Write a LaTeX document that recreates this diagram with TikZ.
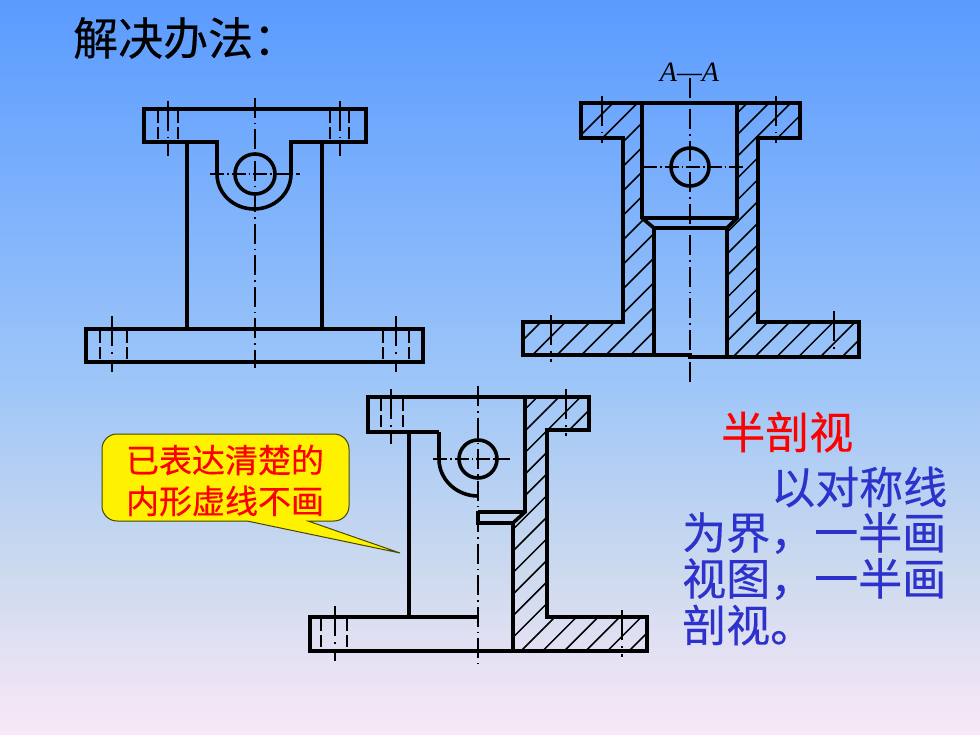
\documentclass[tikz,border=0pt]{standalone}
\usepackage{fontspec}
\newfontfamily\cjk[FakeBold=0.4]{Noto Sans CJK SC}
\newfontfamily\latinit{Liberation Serif}
\definecolor{bgA}{RGB}{90,155,255}
\definecolor{bgB}{RGB}{158,198,248}
\definecolor{bgC}{RGB}{205,218,238}
\definecolor{bgD}{RGB}{250,232,248}
\definecolor{bluetext}{RGB}{45,50,205}
\pgfdeclareverticalshading{slidebg}{100bp}{color(0bp)=(bgD); color(25bp)=(bgD); color(36bp)=(bgC); color(49bp)=(bgB); color(75bp)=(bgA); color(100bp)=(bgA)}
\tikzset{
  outline/.style={line width=3.6pt,line join=miter,line cap=butt},
  centreline/.style={line width=1.7pt,dash pattern=on 20pt off 5pt on 1.5pt off 5pt},
  hcentre/.style={line width=1.1pt,dash pattern=on 14pt off 3pt on 1.5pt off 3pt},
  boltaxis/.style={line width=1.7pt,dash pattern=on 30pt off 6pt on 1.5pt off 6pt},
  hidden/.style={line width=1.7pt,dash pattern=on 12pt off 4pt},
  hatchline/.style={line width=1.5pt},
  title/.style={font=\cjk\fontsize{45}{45}\selectfont,text=black,inner sep=0pt,anchor=west},
  bodyred/.style={font=\cjk\fontsize{44}{44}\selectfont,text=red,inner sep=0pt,anchor=west},
  bodyblue/.style={font=\cjk\fontsize{44}{44}\selectfont,text=bluetext,inner sep=0pt,anchor=west},
  calltext/.style={font=\cjk\fontsize{33}{33}\selectfont,text=red,inner sep=0pt,anchor=center},
}
\begin{document}
\begin{tikzpicture}[x=1pt,y=-1pt]
\useasboundingbox (0,0) rectangle (980,735);
\shade[shading=slidebg] (0,0) rectangle (980,735);

% Title
\node[title] (ttl) at (73,38) {解决办法：};

% ---------- View 1 ----------
\draw[centreline] (255,98) -- (255,368);
\draw[hcentre] (210,174) -- (300,174);
\foreach \x in {168,340} \draw[boltaxis] (\x,101) -- (\x,156);
\foreach \x in {158,178,330,349} \draw[hidden] (\x,111) -- (\x,141);
\foreach \x in {112,396} \draw[boltaxis] (\x,316) -- (\x,372);
\foreach \x in {100,127,383,409} \draw[hidden] (\x,331) -- (\x,361);
\draw[outline] (217,142) -- (144,142) -- (144,109) -- (366,109) -- (366,142) -- (291,142) -- (291,174)
  arc[start angle=0,end angle=180,x radius=37,y radius=35] -- cycle;
\draw[outline] (187,142) -- (187,329);
\draw[outline] (322,142) -- (322,329);
\draw[outline] (86,329) rectangle (423,362);
\draw[outline] (255,174) circle[radius=20];

% ---------- View 2 ----------
\begin{scope}
\clip (581,103) -- (642,103) -- (642,218) -- (654,228) -- (654,356) -- (523,356) -- (523,322) -- (623,322) -- (623,138) -- (581,138) -- cycle;
\foreach \k in {0,...,14} \draw[hatchline] ({716+24.5*\k-80},80) -- ({716+24.5*\k-380},380);
\end{scope}
\begin{scope}
\clip (737,103) -- (800,103) -- (800,138) -- (758,138) -- (758,322) -- (859,322) -- (859,357) -- (727,357) -- (727,228) -- (737,218) -- cycle;
\foreach \k in {-11,...,5} \draw[hatchline] ({1090+21.8*\k-80},80) -- ({1090+21.8*\k-380},380);
\end{scope}
\draw[centreline] (690,78) -- (690,382);
\draw[hcentre,line width=1.2pt] (643,167) -- (743,167);
\foreach \x in {602,776} \draw[boltaxis] (\x,96) -- (\x,143);
\draw[boltaxis] (551,315) -- (551,362);
\draw[boltaxis] (834,311) -- (834,358);
\draw[outline] (581,103) -- (800,103) -- (800,138) -- (758,138) -- (758,322) -- (859,322) -- (859,357) -- (690,357) -- (690,355) -- (523,355) -- (523,322) -- (623,322) -- (623,138) -- (581,138) -- cycle;
\draw[outline] (642,103) -- (642,218) -- (654,228) -- (654,355);
\draw[outline] (737,103) -- (737,218) -- (727,228) -- (727,357);
\draw[outline] (642,218) -- (737,218);
\draw[outline] (654,228) -- (727,228);
\draw[outline] (690,167) circle[radius=19];
\node[font=\latinit\itshape\fontsize{28}{28}\selectfont,text=black,inner sep=0pt] (sect) at (689.500,72) {A—A};

% ---------- View 3 ----------
\begin{scope}
\clip (525,397) -- (589,397) -- (589,430) -- (547,430) -- (547,617) -- (647,617) -- (647,651) -- (513,651) -- (513,523) -- (525,512) -- cycle;
\foreach \k in {-12,...,6} \draw[hatchline] ({1172+21.6*\k-380},380) -- ({1172+21.6*\k-680},680);
\end{scope}
\draw[centreline] (478,386) -- (478,664);
\draw[hcentre,line width=1.4pt] (433,459) -- (510,459);
\draw[boltaxis] (391,389) -- (391,444);
\draw[boltaxis] (566,389) -- (566,436);
\foreach \x in {381,403} \draw[hidden] (\x,399) -- (\x,430);
\draw[boltaxis] (335,606) -- (335,661);
\draw[boltaxis] (622,610) -- (622,657);
\foreach \x in {321,347} \draw[hidden] (\x,619) -- (\x,650);
\draw[outline] (439,432) -- (368,432) -- (368,397) -- (589,397) -- (589,430) -- (547,430) -- (547,617) -- (647,617) -- (647,651) -- (310,651) -- (310,617) -- (478,617);
\draw[outline] (439,432) -- (439,459) arc[start angle=180,end angle=90,x radius=39,y radius=37];
\draw[outline] (409,432) -- (409,617);
\draw[outline] (525,397) -- (525,512) -- (513,523) -- (513,651);
\draw[outline] (478,512) -- (525,512);
\draw[outline] (478,523) -- (513,523);
\draw[outline] (478,510.500) -- (478,524.500);
\draw[outline] (478,459) circle[radius=19];

% ---------- Callout ----------
\draw[draw={rgb,255:red,70;green,70;blue,0},fill=yellow,line width=1pt]
  (247,521) -- (117,521) arc[start angle=90,end angle=180,radius=15] -- (102,449)
  arc[start angle=180,end angle=270,radius=15] -- (334,434)
  arc[start angle=270,end angle=360,radius=15] -- (349,506)
  arc[start angle=0,end angle=90,radius=15] -- (308,521) -- (400,553) -- cycle;
\node[calltext] (c1) at (225,460) {已表达清楚的};
\node[calltext] (c2) at (225,501) {内形虚线不画};

% ---------- Right text ----------
\node[bodyred] (h) at (721,432) {半剖视};
\node[bodyblue] (b1) at (771,487) {以对称线};
\node[bodyblue] (b2) at (682,533) {为界，一半画};
\node[bodyblue] (b3) at (682,579) {视图，一半画};
\node[bodyblue] (b4) at (682,625) {剖视。};
\end{tikzpicture}
\end{document}
